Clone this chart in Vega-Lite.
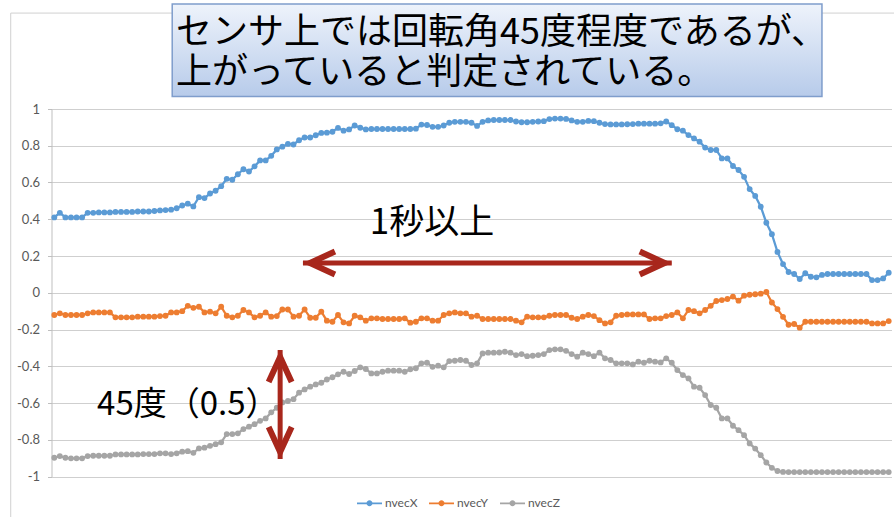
{
  "$schema": "https://vega.github.io/schema/vega-lite/v6.json",
  "width": 840,
  "height": 367.5,
  "autosize": {"type": "none"},
  "padding": {"left": 51.5, "top": 109, "right": 2.5, "bottom": 40.5},
  "background": "white",
  "config": {"view": {"stroke": null}},
  "datasets": {
    "series": [
      {"i":0,"nvecX":0.41,"nvecY":-0.121,"nvecZ":-0.898},
      {"i":1,"nvecX":0.435,"nvecY":-0.112,"nvecZ":-0.889},
      {"i":2,"nvecX":0.41,"nvecY":-0.121,"nvecZ":-0.898},
      {"i":3,"nvecX":0.41,"nvecY":-0.121,"nvecZ":-0.901},
      {"i":4,"nvecX":0.41,"nvecY":-0.121,"nvecZ":-0.901},
      {"i":5,"nvecX":0.41,"nvecY":-0.121,"nvecZ":-0.901},
      {"i":6,"nvecX":0.435,"nvecY":-0.112,"nvecZ":-0.889},
      {"i":7,"nvecX":0.435,"nvecY":-0.107,"nvecZ":-0.887},
      {"i":8,"nvecX":0.437,"nvecY":-0.107,"nvecZ":-0.887},
      {"i":9,"nvecX":0.437,"nvecY":-0.107,"nvecZ":-0.887},
      {"i":10,"nvecX":0.437,"nvecY":-0.107,"nvecZ":-0.887},
      {"i":11,"nvecX":0.44,"nvecY":-0.134,"nvecZ":-0.88},
      {"i":12,"nvecX":0.44,"nvecY":-0.134,"nvecZ":-0.88},
      {"i":13,"nvecX":0.44,"nvecY":-0.134,"nvecZ":-0.88},
      {"i":14,"nvecX":0.44,"nvecY":-0.134,"nvecZ":-0.88},
      {"i":15,"nvecX":0.442,"nvecY":-0.13,"nvecZ":-0.88},
      {"i":16,"nvecX":0.442,"nvecY":-0.13,"nvecZ":-0.878},
      {"i":17,"nvecX":0.442,"nvecY":-0.13,"nvecZ":-0.878},
      {"i":18,"nvecX":0.445,"nvecY":-0.13,"nvecZ":-0.878},
      {"i":19,"nvecX":0.448,"nvecY":-0.127,"nvecZ":-0.874},
      {"i":20,"nvecX":0.45,"nvecY":-0.125,"nvecZ":-0.874},
      {"i":21,"nvecX":0.452,"nvecY":-0.107,"nvecZ":-0.878},
      {"i":22,"nvecX":0.46,"nvecY":-0.107,"nvecZ":-0.874},
      {"i":23,"nvecX":0.475,"nvecY":-0.1,"nvecZ":-0.865},
      {"i":24,"nvecX":0.485,"nvecY":-0.071,"nvecZ":-0.862},
      {"i":25,"nvecX":0.47,"nvecY":-0.082,"nvecZ":-0.871},
      {"i":26,"nvecX":0.52,"nvecY":-0.076,"nvecZ":-0.847},
      {"i":27,"nvecX":0.515,"nvecY":-0.107,"nvecZ":-0.843},
      {"i":28,"nvecX":0.54,"nvecY":-0.103,"nvecZ":-0.833},
      {"i":29,"nvecX":0.555,"nvecY":-0.112,"nvecZ":-0.824},
      {"i":30,"nvecX":0.58,"nvecY":-0.076,"nvecZ":-0.814},
      {"i":31,"nvecX":0.62,"nvecY":-0.125,"nvecZ":-0.769},
      {"i":32,"nvecX":0.615,"nvecY":-0.134,"nvecZ":-0.769},
      {"i":33,"nvecX":0.645,"nvecY":-0.125,"nvecZ":-0.765},
      {"i":34,"nvecX":0.672,"nvecY":-0.094,"nvecZ":-0.742},
      {"i":35,"nvecX":0.66,"nvecY":-0.107,"nvecZ":-0.729},
      {"i":36,"nvecX":0.688,"nvecY":-0.134,"nvecZ":-0.715},
      {"i":37,"nvecX":0.72,"nvecY":-0.125,"nvecZ":-0.697},
      {"i":38,"nvecX":0.72,"nvecY":-0.107,"nvecZ":-0.684},
      {"i":39,"nvecX":0.745,"nvecY":-0.13,"nvecZ":-0.651},
      {"i":40,"nvecX":0.78,"nvecY":-0.127,"nvecZ":-0.626},
      {"i":41,"nvecX":0.795,"nvecY":-0.091,"nvecZ":-0.597},
      {"i":42,"nvecX":0.81,"nvecY":-0.091,"nvecZ":-0.589},
      {"i":43,"nvecX":0.807,"nvecY":-0.13,"nvecZ":-0.579},
      {"i":44,"nvecX":0.83,"nvecY":-0.125,"nvecZ":-0.544},
      {"i":45,"nvecX":0.845,"nvecY":-0.091,"nvecZ":-0.526},
      {"i":46,"nvecX":0.845,"nvecY":-0.136,"nvecZ":-0.511},
      {"i":47,"nvecX":0.857,"nvecY":-0.136,"nvecZ":-0.499},
      {"i":48,"nvecX":0.87,"nvecY":-0.103,"nvecZ":-0.49},
      {"i":49,"nvecX":0.871,"nvecY":-0.152,"nvecZ":-0.472},
      {"i":50,"nvecX":0.876,"nvecY":-0.158,"nvecZ":-0.46},
      {"i":51,"nvecX":0.897,"nvecY":-0.121,"nvecZ":-0.444},
      {"i":52,"nvecX":0.882,"nvecY":-0.161,"nvecZ":-0.43},
      {"i":53,"nvecX":0.889,"nvecY":-0.167,"nvecZ":-0.442},
      {"i":54,"nvecX":0.91,"nvecY":-0.125,"nvecZ":-0.426},
      {"i":55,"nvecX":0.898,"nvecY":-0.134,"nvecZ":-0.406},
      {"i":56,"nvecX":0.889,"nvecY":-0.152,"nvecZ":-0.415},
      {"i":57,"nvecX":0.891,"nvecY":-0.139,"nvecZ":-0.439},
      {"i":58,"nvecX":0.891,"nvecY":-0.139,"nvecZ":-0.439},
      {"i":59,"nvecX":0.891,"nvecY":-0.143,"nvecZ":-0.43},
      {"i":60,"nvecX":0.891,"nvecY":-0.143,"nvecZ":-0.424},
      {"i":61,"nvecX":0.891,"nvecY":-0.143,"nvecZ":-0.424},
      {"i":62,"nvecX":0.891,"nvecY":-0.143,"nvecZ":-0.424},
      {"i":63,"nvecX":0.891,"nvecY":-0.139,"nvecZ":-0.43},
      {"i":64,"nvecX":0.891,"nvecY":-0.163,"nvecZ":-0.417},
      {"i":65,"nvecX":0.893,"nvecY":-0.158,"nvecZ":-0.411},
      {"i":66,"nvecX":0.915,"nvecY":-0.139,"nvecZ":-0.384},
      {"i":67,"nvecX":0.913,"nvecY":-0.139,"nvecZ":-0.381},
      {"i":68,"nvecX":0.903,"nvecY":-0.152,"nvecZ":-0.403},
      {"i":69,"nvecX":0.903,"nvecY":-0.152,"nvecZ":-0.397},
      {"i":70,"nvecX":0.91,"nvecY":-0.121,"nvecZ":-0.406},
      {"i":71,"nvecX":0.925,"nvecY":-0.112,"nvecZ":-0.372},
      {"i":72,"nvecX":0.93,"nvecY":-0.107,"nvecZ":-0.37},
      {"i":73,"nvecX":0.93,"nvecY":-0.112,"nvecZ":-0.366},
      {"i":74,"nvecX":0.93,"nvecY":-0.112,"nvecZ":-0.37},
      {"i":75,"nvecX":0.925,"nvecY":-0.13,"nvecZ":-0.393},
      {"i":76,"nvecX":0.908,"nvecY":-0.125,"nvecZ":-0.384},
      {"i":77,"nvecX":0.93,"nvecY":-0.143,"nvecZ":-0.33},
      {"i":78,"nvecX":0.938,"nvecY":-0.143,"nvecZ":-0.326},
      {"i":79,"nvecX":0.94,"nvecY":-0.143,"nvecZ":-0.326},
      {"i":80,"nvecX":0.94,"nvecY":-0.143,"nvecZ":-0.325},
      {"i":81,"nvecX":0.94,"nvecY":-0.143,"nvecZ":-0.321},
      {"i":82,"nvecX":0.94,"nvecY":-0.143,"nvecZ":-0.326},
      {"i":83,"nvecX":0.932,"nvecY":-0.152,"nvecZ":-0.339},
      {"i":84,"nvecX":0.928,"nvecY":-0.161,"nvecZ":-0.334},
      {"i":85,"nvecX":0.928,"nvecY":-0.13,"nvecZ":-0.345},
      {"i":86,"nvecX":0.93,"nvecY":-0.134,"nvecZ":-0.343},
      {"i":87,"nvecX":0.932,"nvecY":-0.134,"nvecZ":-0.339},
      {"i":88,"nvecX":0.934,"nvecY":-0.134,"nvecZ":-0.334},
      {"i":89,"nvecX":0.945,"nvecY":-0.125,"nvecZ":-0.312},
      {"i":90,"nvecX":0.948,"nvecY":-0.121,"nvecZ":-0.308},
      {"i":91,"nvecX":0.948,"nvecY":-0.121,"nvecZ":-0.308},
      {"i":92,"nvecX":0.946,"nvecY":-0.121,"nvecZ":-0.316},
      {"i":93,"nvecX":0.938,"nvecY":-0.136,"nvecZ":-0.334},
      {"i":94,"nvecX":0.93,"nvecY":-0.143,"nvecZ":-0.348},
      {"i":95,"nvecX":0.93,"nvecY":-0.13,"nvecZ":-0.326},
      {"i":96,"nvecX":0.935,"nvecY":-0.121,"nvecZ":-0.334},
      {"i":97,"nvecX":0.934,"nvecY":-0.127,"nvecZ":-0.345},
      {"i":98,"nvecX":0.925,"nvecY":-0.149,"nvecZ":-0.326},
      {"i":99,"nvecX":0.918,"nvecY":-0.167,"nvecZ":-0.357},
      {"i":100,"nvecX":0.916,"nvecY":-0.161,"nvecZ":-0.366},
      {"i":101,"nvecX":0.916,"nvecY":-0.125,"nvecZ":-0.384},
      {"i":102,"nvecX":0.916,"nvecY":-0.121,"nvecZ":-0.384},
      {"i":103,"nvecX":0.917,"nvecY":-0.118,"nvecZ":-0.384},
      {"i":104,"nvecX":0.918,"nvecY":-0.118,"nvecZ":-0.39},
      {"i":105,"nvecX":0.92,"nvecY":-0.118,"nvecZ":-0.375},
      {"i":106,"nvecX":0.92,"nvecY":-0.118,"nvecZ":-0.381},
      {"i":107,"nvecX":0.92,"nvecY":-0.143,"nvecZ":-0.37},
      {"i":108,"nvecX":0.92,"nvecY":-0.139,"nvecZ":-0.375},
      {"i":109,"nvecX":0.922,"nvecY":-0.139,"nvecZ":-0.379},
      {"i":110,"nvecX":0.932,"nvecY":-0.127,"nvecZ":-0.357},
      {"i":111,"nvecX":0.912,"nvecY":-0.121,"nvecZ":-0.381},
      {"i":112,"nvecX":0.89,"nvecY":-0.107,"nvecZ":-0.421},
      {"i":113,"nvecX":0.882,"nvecY":-0.139,"nvecZ":-0.448},
      {"i":114,"nvecX":0.858,"nvecY":-0.094,"nvecZ":-0.466},
      {"i":115,"nvecX":0.84,"nvecY":-0.1,"nvecZ":-0.511},
      {"i":116,"nvecX":0.822,"nvecY":-0.112,"nvecZ":-0.517},
      {"i":117,"nvecX":0.79,"nvecY":-0.094,"nvecZ":-0.557},
      {"i":118,"nvecX":0.777,"nvecY":-0.071,"nvecZ":-0.611},
      {"i":119,"nvecX":0.777,"nvecY":-0.045,"nvecZ":-0.626},
      {"i":120,"nvecX":0.731,"nvecY":-0.04,"nvecZ":-0.684},
      {"i":121,"nvecX":0.731,"nvecY":-0.034,"nvecZ":-0.684},
      {"i":122,"nvecX":0.69,"nvecY":-0.021,"nvecZ":-0.724},
      {"i":123,"nvecX":0.668,"nvecY":-0.043,"nvecZ":-0.748},
      {"i":124,"nvecX":0.631,"nvecY":-0.016,"nvecZ":-0.775},
      {"i":125,"nvecX":0.564,"nvecY":-0.011,"nvecZ":-0.82},
      {"i":126,"nvecX":0.527,"nvecY":-0.008,"nvecZ":-0.848},
      {"i":127,"nvecX":0.468,"nvecY":-0.005,"nvecZ":-0.884},
      {"i":128,"nvecX":0.381,"nvecY":0.004,"nvecZ":-0.924},
      {"i":129,"nvecX":0.319,"nvecY":-0.053,"nvecZ":-0.953},
      {"i":130,"nvecX":0.222,"nvecY":-0.089,"nvecZ":-0.97},
      {"i":131,"nvecX":0.156,"nvecY":-0.131,"nvecZ":-0.975},
      {"i":132,"nvecX":0.113,"nvecY":-0.174,"nvecZ":-0.976},
      {"i":133,"nvecX":0.102,"nvecY":-0.17,"nvecZ":-0.976},
      {"i":134,"nvecX":0.075,"nvecY":-0.19,"nvecZ":-0.976},
      {"i":135,"nvecX":0.106,"nvecY":-0.158,"nvecZ":-0.976},
      {"i":136,"nvecX":0.087,"nvecY":-0.158,"nvecZ":-0.976},
      {"i":137,"nvecX":0.084,"nvecY":-0.158,"nvecZ":-0.976},
      {"i":138,"nvecX":0.097,"nvecY":-0.158,"nvecZ":-0.976},
      {"i":139,"nvecX":0.102,"nvecY":-0.158,"nvecZ":-0.976},
      {"i":140,"nvecX":0.102,"nvecY":-0.158,"nvecZ":-0.976},
      {"i":141,"nvecX":0.102,"nvecY":-0.158,"nvecZ":-0.976},
      {"i":142,"nvecX":0.102,"nvecY":-0.158,"nvecZ":-0.976},
      {"i":143,"nvecX":0.102,"nvecY":-0.158,"nvecZ":-0.976},
      {"i":144,"nvecX":0.102,"nvecY":-0.158,"nvecZ":-0.976},
      {"i":145,"nvecX":0.102,"nvecY":-0.158,"nvecZ":-0.976},
      {"i":146,"nvecX":0.102,"nvecY":-0.158,"nvecZ":-0.976},
      {"i":147,"nvecX":0.069,"nvecY":-0.167,"nvecZ":-0.976},
      {"i":148,"nvecX":0.069,"nvecY":-0.167,"nvecZ":-0.976},
      {"i":149,"nvecX":0.078,"nvecY":-0.167,"nvecZ":-0.976},
      {"i":150,"nvecX":0.109,"nvecY":-0.154,"nvecZ":-0.976}
    ],
    "border": [{"i": -7.83, "i2": 165, "v": 1.522, "v2": -1.6}],
    "box": [{"i": 21.2, "i2": 138.0, "v": 1.572, "v2": 1.068}],
    "title": [
      {"i": 21.9, "v": 1.412, "t": "センサ上では回転角45度程度であるが、"},
      {"i": 21.9, "v": 1.198, "t": "上がっていると判定されている。"}
    ],
    "notes": [
      {"i": 67.9, "v": 0.382, "t": "1秒以上", "s": 35},
      {"i": 24.0, "v": -0.611, "t": "45度（0.5）", "s": 33}
    ],
    "shafts": [
      {"i": 44.7, "i2": 111.0, "v": 0.162, "v2": 0.162},
      {"i": 40.6, "i2": 40.6, "v": -0.3116, "v2": -0.9048}
    ],
    "heads": [
      {"i": 44.7, "v": 0.162, "d": "L"},
      {"i": 111.0, "v": 0.162, "d": "R"},
      {"i": 40.6, "v": -0.3116, "d": "U"},
      {"i": 40.6, "v": -0.9048, "d": "D"}
    ]
  },
  "encoding": {
    "x": {"field": "i", "type": "quantitative", "scale": {"domain": [-0.5, 150.5], "nice": false, "zero": false}, "axis": null},
    "y": {"field": "v", "type": "quantitative", "scale": {"domain": [-1, 1], "nice": false, "zero": false},
      "axis": {"values": [-1, -0.8, -0.6, -0.4, -0.2, 0, 0.2, 0.4, 0.6, 0.8, 1],
        "labelExpr": "replace(format(datum.value, '~g'), '\u2212', '-')",
        "title": null, "grid": true, "gridColor": "#CFCFCF", "gridWidth": 1,
        "domainColor": "#BFBFBF", "tickColor": "#BFBFBF", "tickSize": 4, "labelPadding": 8,
        "labelFont": "Lato", "labelFontSize": 13, "labelColor": "#595959"}}
  },
  "layer": [
    {
      "data": {"name": "border"},
      "mark": {"type": "rect", "fill": null, "stroke": "#D0D0D0", "strokeWidth": 1},
      "encoding": {"x2": {"field": "i2"}, "y2": {"field": "v2"}}
    },
    {
      "data": {"name": "series"},
      "transform": [{"fold": ["nvecX", "nvecY", "nvecZ"], "as": ["key", "v"]}],
      "mark": {"type": "line", "strokeWidth": 2.25},
      "encoding": {
        "color": {"field": "key", "type": "nominal", "scale": {"domain": ["nvecX", "nvecY", "nvecZ"], "range": ["#5B9BD5", "#ED7D31", "#A5A5A5"]},
          "legend": {"orient": "none", "legendX": 305.5, "legendY": 381.5, "direction": "horizontal", "title": null,
            "symbolType": "M-1,-0.07L1,-0.07L1,0.07L-1,0.07Z M-0.24,0A0.24,0.24,0,1,1,0.24,0A0.24,0.24,0,1,1,-0.24,0Z",
            "symbolSize": 625, "symbolOpacity": 1, "symbolStrokeWidth": 0,
            "labelFont": "Lato", "labelFontSize": 12, "labelColor": "#595959", "labelOffset": 3, "columnPadding": 11}}
      }
    },
    {
      "data": {"name": "series"},
      "transform": [{"fold": ["nvecX", "nvecY", "nvecZ"], "as": ["key", "v"]}],
      "mark": {"type": "point", "filled": true, "opacity": 1, "size": 34},
      "encoding": {
        "color": {"field": "key", "type": "nominal", "scale": {"domain": ["nvecX", "nvecY", "nvecZ"], "range": ["#5B9BD5", "#ED7D31", "#A5A5A5"]},
          "legend": {"orient": "none", "legendX": 305.5, "legendY": 381.5, "direction": "horizontal", "title": null,
            "symbolType": "M-1,-0.07L1,-0.07L1,0.07L-1,0.07Z M-0.24,0A0.24,0.24,0,1,1,0.24,0A0.24,0.24,0,1,1,-0.24,0Z",
            "symbolSize": 625, "symbolOpacity": 1, "symbolStrokeWidth": 0,
            "labelFont": "Lato", "labelFontSize": 12, "labelColor": "#595959", "labelOffset": 3, "columnPadding": 11}}
      }
    },
    {
      "data": {"name": "shafts"},
      "mark": {"type": "rule", "color": "#A8271C", "strokeWidth": 5},
      "encoding": {"x2": {"field": "i2"}, "y2": {"field": "v2"}}
    },
    {
      "data": {"name": "heads"},
      "mark": {"type": "point", "filled": false, "opacity": 1, "size": 2500, "color": "#A8271C", "strokeWidth": 6, "strokeJoin": "miter"},
      "encoding": {
        "shape": {"field": "d", "type": "nominal", "legend": null,
          "scale": {"domain": ["L", "R", "U", "D"],
            "range": ["M1.28,-0.46L0.28,0L1.28,0.46", "M-1.28,-0.46L-0.28,0L-1.28,0.46", "M-0.46,1.28L0,0.28L0.46,1.28", "M-0.46,-1.28L0,-0.28L0.46,-1.28"]}}
      }
    },
    {
      "data": {"name": "notes"},
      "mark": {"type": "text", "font": "Noto Sans CJK JP", "color": "#000000", "align": "center", "baseline": "middle"},
      "encoding": {
        "text": {"field": "t"},
        "size": {"field": "s", "type": "quantitative", "scale": null}
      }
    },
    {
      "data": {"name": "box"},
      "mark": {"type": "rect", "fill": "#8A8A8A", "opacity": 0.55, "xOffset": 3, "yOffset": 3},
      "encoding": {"x2": {"field": "i2"}, "y2": {"field": "v2"}}
    },
    {
      "data": {"name": "box"},
      "mark": {"type": "rect", "stroke": "#7F9DCC", "strokeWidth": 1.5,
        "fill": {"gradient": "linear", "x1": 0, "y1": 0, "x2": 0, "y2": 1,
          "stops": [{"offset": 0, "color": "#EEF3FB"}, {"offset": 1, "color": "#B7CBEA"}]}},
      "encoding": {"x2": {"field": "i2"}, "y2": {"field": "v2"}}
    },
    {
      "data": {"name": "title"},
      "mark": {"type": "text", "font": "Noto Sans CJK JP", "fontSize": 36, "color": "#000000", "align": "left", "baseline": "middle"},
      "encoding": {"text": {"field": "t"}}
    }
  ]
}
